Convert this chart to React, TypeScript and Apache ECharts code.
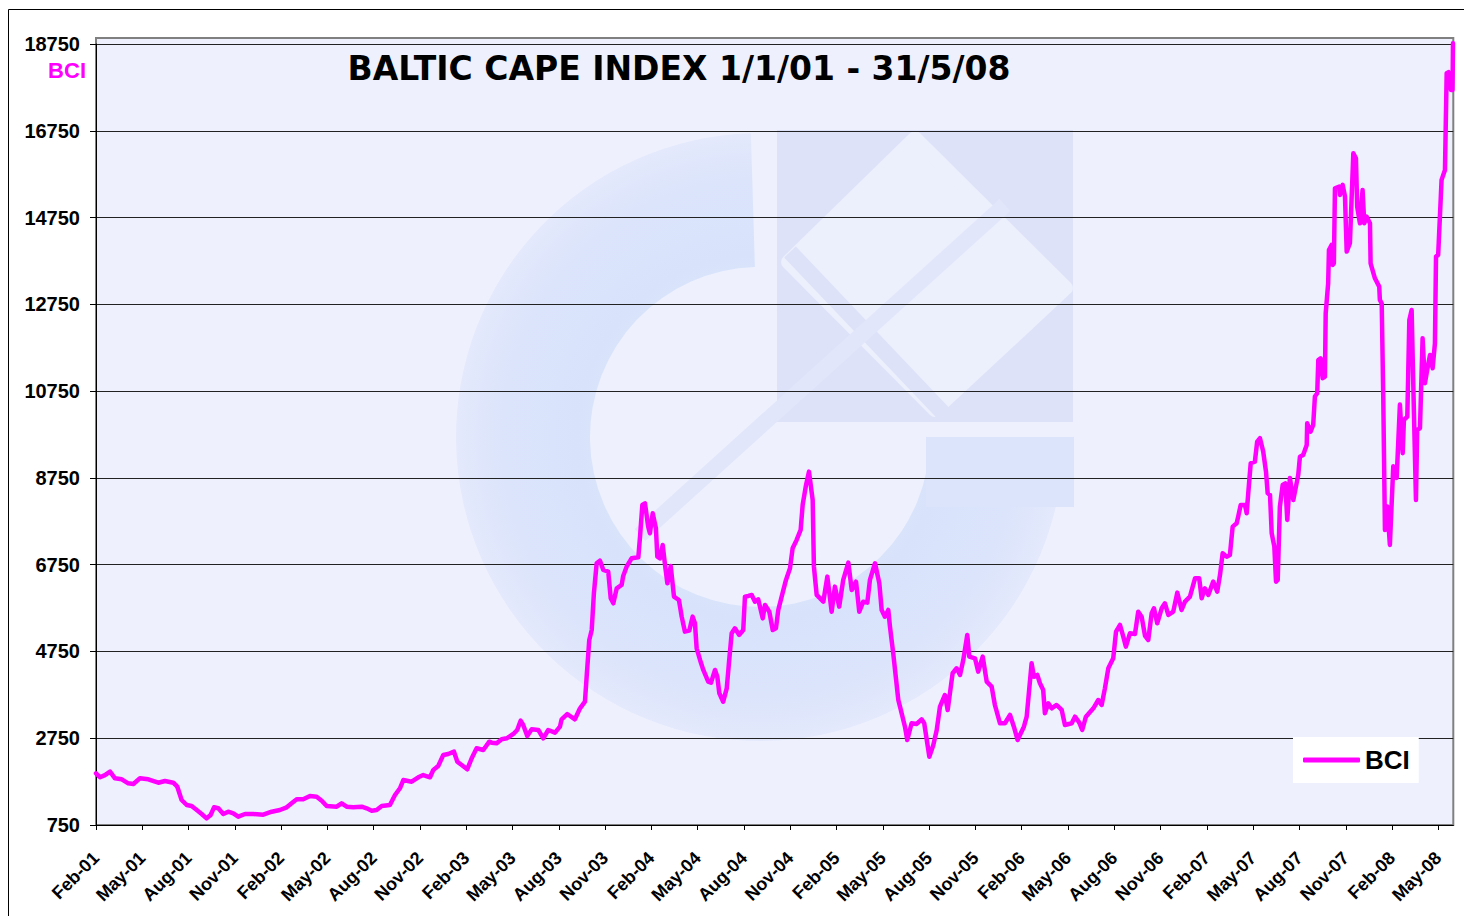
import React, { useEffect, useRef } from "react";
import * as echarts from "echarts";

// Quarter tick labels (every 3 months from Feb-01)
const quarterLabels = [
  "Feb-01", "May-01", "Aug-01", "Nov-01",
  "Feb-02", "May-02", "Aug-02", "Nov-02",
  "Feb-03", "May-03", "Aug-03", "Nov-03",
  "Feb-04", "May-04", "Aug-04", "Nov-04",
  "Feb-05", "May-05", "Aug-05", "Nov-05",
  "Feb-06", "May-06", "Aug-06", "Nov-06",
  "Feb-07", "May-07", "Aug-07", "Nov-07",
  "Feb-08", "May-08",
];

// Y axis ticks: 750 .. 18750 step 2000
const yMin = 750;
const yMax = 18750;
const yStep = 2000;

// Time position of each reading, in months since 1 Feb 2001
const monthsSinceFeb01 = [
  0.00, 0.26, 0.58, 0.91, 1.23, 1.67, 2.09, 2.42, 2.85, 3.39, 4.04, 4.47, 5.01, 5.27, 5.55, 5.88,
  6.20, 6.53, 6.85, 7.17, 7.43, 7.65, 7.93, 8.25, 8.57, 8.90, 9.22, 9.66, 10.19, 10.84, 11.39, 11.92,
  12.36, 12.68, 13.01, 13.43, 13.87, 14.30, 14.63, 14.95, 15.60, 15.92, 16.25, 16.68, 17.22, 17.54,
  17.87, 18.19, 18.52, 19.05, 19.38, 19.70, 19.92, 20.46, 20.89, 21.21, 21.65, 21.86, 22.18, 22.51,
  22.83, 23.20, 23.42, 23.70, 24.06, 24.35, 24.67, 25.10, 25.49,
  25.65, 25.97, 26.29, 26.62, 27.05, 27.30, 27.52, 27.69, 27.95, 28.24, 28.67, 28.99, 29.31, 29.75,
  30.07, 30.18, 30.54, 31.04, 31.37, 31.69, 31.80, 31.97, 32.13, 32.27, 32.45, 32.66, 32.88, 33.20,
  33.36, 33.53, 33.75, 34.07, 34.17, 34.39, 34.72, 35.15, 35.26, 35.41, 35.58, 35.79, 35.90, 36.08,
  36.29, 36.38, 36.55, 36.73, 36.88, 37.03, 37.25, 37.46, 37.78, 37.96, 38.17, 38.45, 38.67, 38.82,
  38.93, 39.15, 39.36, 39.68, 39.86, 40.12, 40.27, 40.40, 40.65, 40.88, 41.04, 41.20, 41.41, 41.69,
  41.95, 42.06, 42.28, 42.50, 42.71, 42.92, 43.21, 43.36, 43.64, 43.86, 44.07, 44.22, 44.44, 44.72,
  44.98, 45.15, 45.41, 45.67, 45.80, 46.02, 46.21, 46.45, 46.53, 46.71, 47.14, 47.40, 47.68, 47.89,
  48.17, 48.43, 48.76, 48.98, 49.26, 49.47, 49.73, 49.99, 50.16, 50.49, 50.77, 50.92, 51.13, 51.35,
  51.46, 51.67, 52.00,
  52.11, 52.43, 52.58, 52.86, 53.19, 53.51, 53.68, 54.01, 54.27, 54.49, 54.70, 55.02, 55.20, 55.52,
  55.78, 56.00, 56.21, 56.47, 56.60, 56.97, 57.18, 57.47, 57.73, 58.05, 58.26, 58.59, 58.91, 59.24,
  59.49, 59.73, 60.14, 60.32, 60.49, 60.64, 60.79, 61.01, 61.18, 61.39, 61.50, 61.72, 61.94, 62.26,
  62.59, 62.80, 63.24, 63.45, 63.73, 63.92, 64.16, 64.64, 64.96, 65.18, 65.39, 65.61, 65.93, 66.11,
  66.37, 66.58, 66.75, 67.01, 67.34, 67.55, 67.77, 67.99, 68.20, 68.42, 68.57, 68.78, 69.07, 69.28,
  69.50, 69.82, 70.08, 70.36, 70.58, 70.90, 71.23, 71.50, 71.66, 71.87, 72.09, 72.41, 72.67, 72.85,
  73.02, 73.28, 73.49,
  73.67, 73.93, 74.03, 74.19, 74.47, 74.58, 74.68, 74.84, 75.11, 75.26, 75.44, 75.65, 75.83, 75.94,
  76.09, 76.20, 76.37, 76.48, 76.59, 76.73, 76.91, 77.08, 77.21, 77.38, 77.60, 77.92, 78.03, 78.24,
  78.47, 78.50, 78.72, 78.89, 79.00, 79.15, 79.22, 79.37, 79.50, 79.65, 79.70, 79.86, 79.91, 80.08,
  80.15, 80.23, 80.30, 80.58, 80.62, 80.80, 80.95, 81.06, 81.27, 81.49, 81.66, 81.74, 81.92, 82.09,
  82.20, 82.35, 82.57, 82.61, 82.89, 83.17, 83.21, 83.33, 83.43, 83.54, 83.69, 83.86, 84.08, 84.30,
  84.51, 84.69, 84.77, 84.99, 85.12, 85.27, 85.38, 85.55, 85.63, 85.81, 85.98, 86.13, 86.28, 86.46,
  86.63, 86.78, 86.85, 86.99, 87.21, 87.43, 87.54, 87.66, 87.82, 87.92, 87.95,
];

// Baltic Cape Index readings
const bciValues = [
  1942, 1850, 1900, 1980, 1826, 1803, 1711, 1695, 1826, 1803, 1725, 1764, 1725, 1633, 1326, 1211,
  1188, 1096, 1004, 904, 980, 1158, 1135, 1004, 1057, 1020, 942, 1004, 1004, 988, 1057, 1096,
  1158, 1250, 1342, 1342, 1418, 1402, 1310, 1188, 1172, 1250, 1172, 1158, 1172, 1135,
  1080, 1096, 1188, 1211, 1441, 1596, 1787, 1748, 1850, 1902, 1850, 2018, 2110, 2364,
  2387, 2440, 2209, 2133, 2034, 2287, 2518, 2479, 2670,
  2647, 2633, 2725, 2748, 2848, 2940, 3154, 3055, 2802, 2955, 2940, 2748, 2940, 2878,
  3016, 3186, 3308, 3186, 3440, 3592, 4168, 5014, 5245, 6091, 6782, 6843, 6629, 6590,
  5975, 5860, 6206, 6282, 6490, 6704, 6897, 6920, 7395, 8126, 8165, 7627, 7473, 7934,
  7589, 6935, 6897, 7204, 6743, 6321, 6720, 6014, 5936, 5552, 5206, 5229, 5552, 5399,
  4823, 4553, 4323, 4053, 4030, 4323, 4168, 3786, 3592, 3900, 4553, 5168, 5284, 5130,
  5245, 6014, 6029, 6052, 5897, 5952, 5513, 5821, 5667, 5245, 5284, 5706, 6014, 6398,
  6667, 7128, 7320, 7550, 8126, 8587, 8894, 8241, 6704, 6052, 5897, 6475, 5667, 6244,
  5782, 6398, 6797, 6167, 6359, 5667, 5897, 5874, 6398, 6782, 6321, 5706, 5552, 5706,
  5321, 4707, 3631,
  3477, 3016, 2709, 3094, 3078, 3186, 3094, 2324, 2594, 2940, 3477, 3747, 3401, 4247,
  4362, 4208, 4553, 5130, 4630, 4592, 4284, 4630, 4053, 3938, 3516, 3094, 3094, 3286,
  3016, 2709, 3016, 3247, 3900, 4477, 4168, 4208, 4016, 3862, 3325, 3555, 3440, 3516,
  3401, 3055, 3094, 3247, 3109, 2940, 3247, 3440, 3631, 3516, 3900, 4362, 4592, 5206,
  5360, 5091, 4860, 5168, 5153, 5667, 5552, 5107, 5014, 5629, 5744, 5399, 5744, 5860,
  5590, 5667, 6106, 5706, 5897, 6014, 6436, 6436, 5975, 6206, 6052, 6359, 6129, 6513,
  7013, 6935, 6974,
  7627, 7704, 7858, 8126, 8126, 7934, 8395, 9087, 9125, 9586, 9664, 9356, 8894, 8395,
  8357, 7473, 7166, 6359, 6398, 8088, 8587, 8625, 7781, 8750, 8241, 8818, 9240, 9279,
  9510, 10009, 9817, 9971, 10624, 10700, 11468, 11507, 11046, 11084, 12544, 13235, 14000, 14119,
  13658, 13696, 15426, 15465, 15272, 15503, 15234, 13966, 14158, 16233, 16118, 15004, 14618, 15387,
  14618, 14772, 14618, 13696, 13350, 13158, 12851, 12774, 10624, 7550, 8088, 7204, 9018, 8750,
  10440, 9318, 10086, 10163, 12390, 12621, 10854, 8241, 9856, 9894, 11967, 10931, 11238, 11584,
  11277, 11853, 13850, 13888, 15618, 15848, 18077, 18100, 17692, 17692, 18768,
];

const seriesData = monthsSinceFeb01.map((m, i) => [m, bciValues[i]]);

const FONT = "'Liberation Sans', Arial, Helvetica, sans-serif";
const MAGENTA = "#FF00FF";

export default function App() {
  const ref = useRef<HTMLDivElement>(null);

  useEffect(() => {
    if (!ref.current) return;
    const chart = echarts.init(ref.current, undefined, { renderer: "svg" });

    const ringColor = "#DBE4FB";
    const blockColor = "#DEE2F9";
    const lightColor = "#ECEFFC";

    chart.setOption({
      animation: false,
      backgroundColor: "#FFFFFF",
      grid: { left: 96, right: 10.7, top: 44, bottom: 91, containLabel: false },
      graphic: [
        {
          type: "rect",
          z: -30,
          shape: { x: 8.5, y: 9.5, width: 1500, height: 950 },
          style: { fill: "none", stroke: "#000", lineWidth: 1 },
          silent: true,
        },
        {
          type: "rect",
          z: -20,
          shape: { x: 96, y: 38, width: 1357.3, height: 787 },
          style: { fill: "#EEF1FD", stroke: "#808080", lineWidth: 2 },
          silent: true,
        },
        // faint watermark logo
        {
          type: "sector",
          z: -10,
          silent: true,
          shape: { cx: 760, cy: 437, r: 304, r0: 170, startAngle: 0, endAngle: Math.PI * 1.5 - 0.03, clockwise: true },
          style: {
            fill: {
              type: "radial",
              x: 0.5,
              y: 0.5,
              r: 0.5,
              colorStops: [
                { offset: 0, color: "#E6ECFC" },
                { offset: 0.6, color: "#D8E3FB" },
                { offset: 0.85, color: ringColor },
                { offset: 1, color: "#E4E9FC" },
              ],
            },
          },
        },
        {
          type: "rect",
          z: -10,
          silent: true,
          shape: { x: 926, y: 437, width: 148, height: 70 },
          style: { fill: ringColor },
        },
        {
          type: "rect",
          z: -10,
          silent: true,
          shape: { x: 777, y: 130, width: 296, height: 292 },
          style: { fill: blockColor },
        },
        {
          type: "polygon",
          z: -9,
          silent: true,
          shape: { points: [[915, 138], [1066, 288], [935, 410], [788, 262]] },
          style: { fill: lightColor, stroke: lightColor, lineWidth: 14, lineJoin: "round" },
        },
        {
          type: "line",
          z: -8,
          silent: true,
          shape: { x1: 790, y1: 252, x2: 945, y2: 415 },
          style: { stroke: blockColor, lineWidth: 16 },
        },
        {
          type: "line",
          z: -8,
          silent: true,
          shape: { x1: 640, y1: 535, x2: 1005, y2: 205 },
          style: { stroke: "#E2E6FA", lineWidth: 16 },
        },
        {
          type: "text",
          z: 10,
          style: {
            text: "BCI",
            x: 86,
            y: 70,
            textAlign: "right",
            textVerticalAlign: "middle",
            fill: MAGENTA,
            font: `bold 22px ${FONT}`,
          },
        },
        {
          type: "text",
          z: 10,
          style: {
            text: "BALTIC CAPE INDEX 1/1/01 - 31/5/08",
            x: 679,
            y: 68,
            textAlign: "center",
            textVerticalAlign: "middle",
            fill: "#000",
            font: "bold 33px 'DejaVu Sans', Verdana, sans-serif",
          },
        },
      ],
      legend: {
        show: true,
        left: 1293,
        top: 737,
        orient: "horizontal",
        padding: [10, 9, 10, 10],
        backgroundColor: "#FFFFFF",
        borderWidth: 0,
        itemWidth: 57,
        itemHeight: 5,
        icon: "roundRect",
        itemStyle: { color: MAGENTA, borderWidth: 0 },
        textStyle: { fontFamily: FONT, fontWeight: "bold", fontSize: 26, color: "#000" },
        data: ["BCI"],
      },
      xAxis: {
        type: "value",
        min: 0,
        max: 87.97,
        interval: 3,
        axisLine: { show: true, onZero: false, lineStyle: { color: "#000", width: 1 } },
        axisTick: { show: true, inside: false, length: 5, lineStyle: { color: "#000" } },
        splitLine: { show: false },
        axisLabel: {
          show: true,
          rotate: 45,
          margin: 30,
          showMaxLabel: false,
          fontFamily: FONT,
          fontWeight: "bold",
          fontSize: 18,
          color: "#000",
          formatter: (v: number) => {
            const i = Math.round(v / 3);
            if (Math.abs(v - i * 3) > 1e-6) return "";
            return quarterLabels[i] ?? "";
          },
        },
      },
      yAxis: {
        type: "value",
        min: yMin,
        max: yMax,
        interval: yStep,
        axisLine: { show: true, lineStyle: { color: "#000", width: 1 } },
        axisTick: { show: true, inside: false, length: 6, lineStyle: { color: "#000" } },
        splitLine: { show: true, lineStyle: { color: "#222", width: 1 } },
        axisLabel: {
          show: true,
          margin: 16,
          fontFamily: FONT,
          fontWeight: "bold",
          fontSize: 20,
          color: "#000",
          formatter: (v: number) => String(Math.round(v)),
        },
      },
      series: [
        {
          name: "BCI",
          type: "line",
          data: seriesData,
          showSymbol: false,
          symbol: "none",
          clip: false,
          color: MAGENTA,
          itemStyle: { color: MAGENTA },
          lineStyle: { color: MAGENTA, width: 4.5, cap: "round", join: "round" },
          z: 5,
        },
      ],
    });

    return () => {
      chart.dispose();
    };
  }, []);

  return (
    <div
      ref={ref}
      style={{ position: "fixed", left: 0, top: 0, width: 1464, height: 916 }}
    />
  );
}
